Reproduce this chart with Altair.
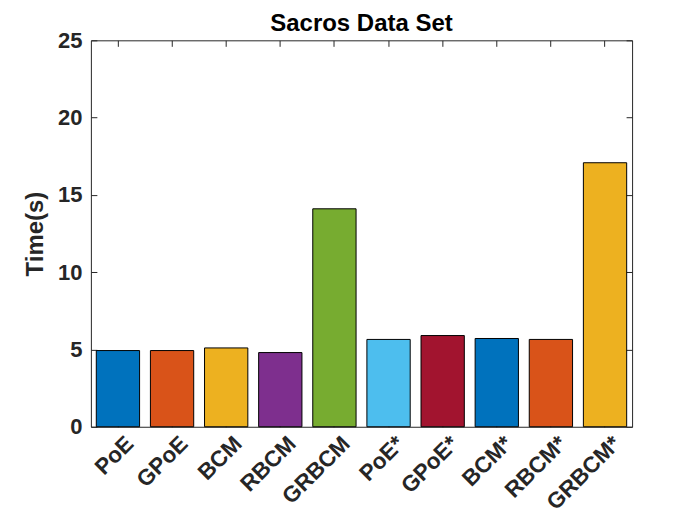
import altair as alt
import pandas as pd

methods = ["PoE", "GPoE", "BCM", "RBCM", "GRBCM", "PoE*", "GPoE*", "BCM*", "RBCM*", "GRBCM*"]
times = [4.93, 4.93, 5.1, 4.8, 14.1, 5.65, 5.9, 5.71, 5.65, 17.08]
colors = ["#0072BD", "#D95319", "#EDB120", "#7E2F8E", "#77AC30",
          "#4DBEEE", "#A2142F", "#0072BD", "#D95319", "#EDB120"]
y_ticks = [0, 5, 10, 15, 20, 25]

df = pd.DataFrame({"method": methods, "time": times, "color": colors})

FONT = "Liberation Sans"
INK = "#262626"

xscale = alt.Scale(domain=methods, paddingInner=0.2, paddingOuter=0.1)
yscale = alt.Scale(domain=[0, 25], nice=False)

base = alt.Chart(df)

bars = base.mark_bar(stroke="black", strokeWidth=1).encode(
    x=alt.X("method:N", sort=methods, scale=xscale,
            axis=alt.Axis(orient="bottom", title=None, labelAngle=-45,
                          labelAlign="right", labelBaseline="middle",
                          labelFontSize=22.5,
                          labelPadding=13, labelOffset=12, offset=-6, tickSize=6,
                          domain=False, grid=False)),
    y=alt.Y("time:Q", scale=yscale,
            axis=alt.Axis(orient="left", title="Time(s)", values=y_ticks,
                          offset=-6, tickSize=6, labelPadding=9,
                          domain=False, grid=False, titlePadding=10,
                          titleFontSize=24)),
    color=alt.Color("color:N", scale=None),
)

frame_axes = base.mark_bar(opacity=0).encode(
    x=alt.X("method:N", sort=methods, scale=xscale,
            axis=alt.Axis(orient="top", title=None, labels=False, minExtent=0,
                          offset=-6, tickSize=6, domain=False, grid=False)),
    y=alt.Y("time:Q", scale=yscale,
            axis=alt.Axis(orient="right", title=None, labels=False, minExtent=0,
                          values=y_ticks, offset=-6, tickSize=6,
                          domain=False, grid=False)),
)

chart = alt.layer(bars, frame_axes).resolve_axis(
    x="independent", y="independent"
).properties(
    width=542, height=387,
    title=alt.TitleParams("Sacros Data Set", fontSize=24, font=FONT,
                          fontWeight="bold", color="black", offset=-7),
    autosize=alt.AutoSizeParams(type="none"),
    padding={"left": 83, "top": 32, "right": 60, "bottom": 90},
).configure_view(
    stroke=INK, strokeWidth=1
).configure_axis(
    labelFont=FONT, labelFontSize=22, labelFontWeight="bold", labelColor=INK,
    titleFont=FONT, titleFontWeight="bold", titleColor=INK,
    tickColor=INK, tickWidth=1, zindex=1
)

chart.save("out.html", embed_options={"renderer": "svg", "actions": False})
